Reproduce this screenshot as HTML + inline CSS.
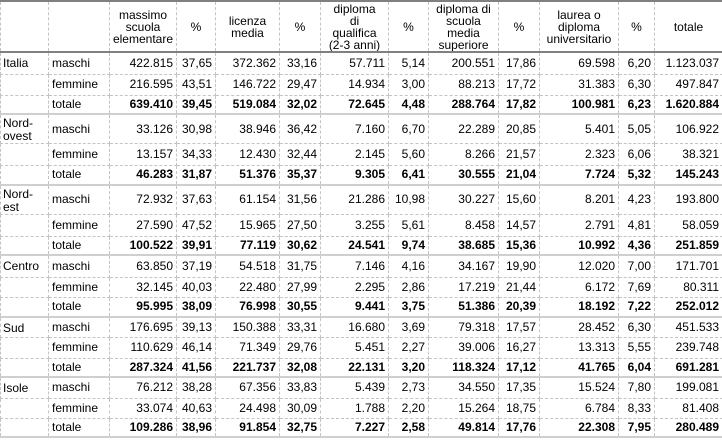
<!DOCTYPE html>
<html><head><meta charset="utf-8"><style>
body{margin:0;background:#fff;width:722px;height:441px;overflow:hidden}
table{border-collapse:collapse;table-layout:fixed;width:722px;font-family:"Liberation Sans",sans-serif;font-size:12px;color:#000;border-top:2px solid #808080;border-bottom:2px solid #808080}
td{border-right:1px dashed #c4c4c4;border-bottom:1px dashed #c4c4c4;padding:0 3px 0 2px;text-align:right;white-space:nowrap;overflow:hidden;line-height:13px}
td:first-child{border-left:1px dashed #c4c4c4;text-align:left;vertical-align:top;padding-top:4px}
td:nth-child(2){text-align:left;padding-left:3px}
tr.h td{text-align:center;vertical-align:middle;border-bottom:2px solid #808080;white-space:nowrap;padding:0 1px;line-height:12px}
tr.h td:first-child{border-left:1px dashed #c4c4c4}
tr.t td{font-weight:bold;border-bottom:2px solid #cfcfcf}
tr.t td:nth-child(2){font-weight:normal}
tr.t td:first-child{font-weight:normal}
</style></head><body>
<table>
<colgroup><col style="width:48px"><col style="width:61px"><col style="width:67px"><col style="width:39px"><col style="width:64px"><col style="width:41px"><col style="width:68px"><col style="width:40px"><col style="width:70px"><col style="width:41px"><col style="width:79px"><col style="width:36px"><col style="width:68px"></colgroup>
<tr class="h" style="height:51px"><td></td><td></td><td>massimo<br>scuola<br>elementare</td><td>%</td><td>licenza<br>media</td><td>%</td><td>diploma<br>di<br>qualifica<br>(2-3 anni)</td><td>%</td><td>diploma di<br>scuola<br>media<br>superiore</td><td>%</td><td>laurea o<br>diploma<br>universitario</td><td>%</td><td>totale</td></tr>
<tr style="height:22px"><td>Italia</td><td>maschi</td><td>422.815</td><td>37,65</td><td>372.362</td><td>33,16</td><td>57.711</td><td>5,14</td><td>200.551</td><td>17,86</td><td>69.598</td><td>6,20</td><td>1.123.037</td></tr>
<tr style="height:21px"><td></td><td>femmine</td><td>216.595</td><td>43,51</td><td>146.722</td><td>29,47</td><td>14.934</td><td>3,00</td><td>88.213</td><td>17,72</td><td>31.383</td><td>6,30</td><td>497.847</td></tr>
<tr class="t" style="height:19px"><td></td><td>totale</td><td>639.410</td><td>39,45</td><td>519.084</td><td>32,02</td><td>72.645</td><td>4,48</td><td>288.764</td><td>17,82</td><td>100.981</td><td>6,23</td><td>1.620.884</td></tr>
<tr style="height:28px"><td style="padding-top:2px;line-height:13px">Nord-<br>ovest</td><td>maschi</td><td>33.126</td><td>30,98</td><td>38.946</td><td>36,42</td><td>7.160</td><td>6,70</td><td>22.289</td><td>20,85</td><td>5.401</td><td>5,05</td><td>106.922</td></tr>
<tr style="height:22px"><td></td><td>femmine</td><td>13.157</td><td>34,33</td><td>12.430</td><td>32,44</td><td>2.145</td><td>5,60</td><td>8.266</td><td>21,57</td><td>2.323</td><td>6,06</td><td>38.321</td></tr>
<tr class="t" style="height:19px"><td></td><td>totale</td><td>46.283</td><td>31,87</td><td>51.376</td><td>35,37</td><td>9.305</td><td>6,41</td><td>30.555</td><td>21,04</td><td>7.724</td><td>5,32</td><td>145.243</td></tr>
<tr style="height:26px"><td style="padding-top:2px;line-height:13px">Nord-<br>est</td><td>maschi</td><td>72.932</td><td>37,63</td><td>61.154</td><td>31,56</td><td>21.286</td><td>10,98</td><td>30.227</td><td>15,60</td><td>8.201</td><td>4,23</td><td>193.800</td></tr>
<tr style="height:22px"><td></td><td>femmine</td><td>27.590</td><td>47,52</td><td>15.965</td><td>27,50</td><td>3.255</td><td>5,61</td><td>8.458</td><td>14,57</td><td>2.791</td><td>4,81</td><td>58.059</td></tr>
<tr class="t" style="height:19px"><td></td><td>totale</td><td>100.522</td><td>39,91</td><td>77.119</td><td>30,62</td><td>24.541</td><td>9,74</td><td>38.685</td><td>15,36</td><td>10.992</td><td>4,36</td><td>251.859</td></tr>
<tr style="height:22px"><td>Centro</td><td>maschi</td><td>63.850</td><td>37,19</td><td>54.518</td><td>31,75</td><td>7.146</td><td>4,16</td><td>34.167</td><td>19,90</td><td>12.020</td><td>7,00</td><td>171.701</td></tr>
<tr style="height:20px"><td></td><td>femmine</td><td>32.145</td><td>40,03</td><td>22.480</td><td>27,99</td><td>2.295</td><td>2,86</td><td>17.219</td><td>21,44</td><td>6.172</td><td>7,69</td><td>80.311</td></tr>
<tr class="t" style="height:20px"><td></td><td>totale</td><td>95.995</td><td>38,09</td><td>76.998</td><td>30,55</td><td>9.441</td><td>3,75</td><td>51.386</td><td>20,39</td><td>18.192</td><td>7,22</td><td>252.012</td></tr>
<tr style="height:20px"><td>Sud</td><td>maschi</td><td>176.695</td><td>39,13</td><td>150.388</td><td>33,31</td><td>16.680</td><td>3,69</td><td>79.318</td><td>17,57</td><td>28.452</td><td>6,30</td><td>451.533</td></tr>
<tr style="height:21px"><td></td><td>femmine</td><td>110.629</td><td>46,14</td><td>71.349</td><td>29,76</td><td>5.451</td><td>2,27</td><td>39.006</td><td>16,27</td><td>13.313</td><td>5,55</td><td>239.748</td></tr>
<tr class="t" style="height:19px"><td></td><td>totale</td><td>287.324</td><td>41,56</td><td>221.737</td><td>32,08</td><td>22.131</td><td>3,20</td><td>118.324</td><td>17,12</td><td>41.765</td><td>6,04</td><td>691.281</td></tr>
<tr style="height:21px"><td>Isole</td><td>maschi</td><td>76.212</td><td>38,28</td><td>67.356</td><td>33,83</td><td>5.439</td><td>2,73</td><td>34.550</td><td>17,35</td><td>15.524</td><td>7,80</td><td>199.081</td></tr>
<tr style="height:20px"><td></td><td>femmine</td><td>33.074</td><td>40,63</td><td>24.498</td><td>30,09</td><td>1.788</td><td>2,20</td><td>15.264</td><td>18,75</td><td>6.784</td><td>8,33</td><td>81.408</td></tr>
<tr class="t" style="height:19px"><td></td><td>totale</td><td>109.286</td><td>38,96</td><td>91.854</td><td>32,75</td><td>7.227</td><td>2,58</td><td>49.814</td><td>17,76</td><td>22.308</td><td>7,95</td><td>280.489</td></tr>
</table>
</body></html>
